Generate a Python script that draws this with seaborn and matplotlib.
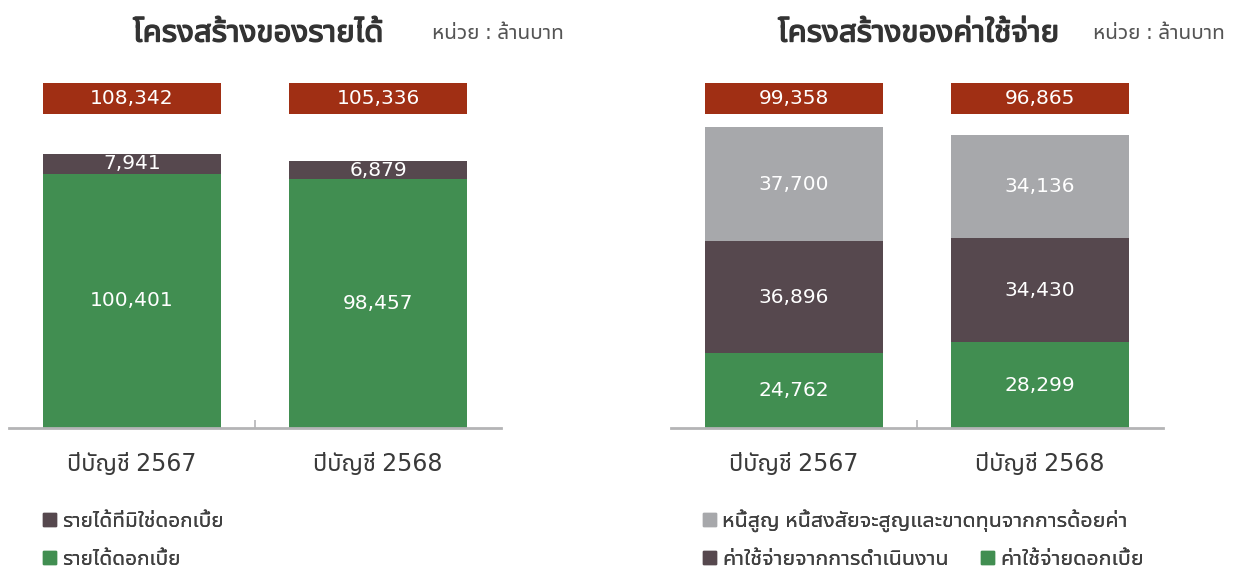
import matplotlib
matplotlib.use("Agg")
import matplotlib.pyplot as plt
import matplotlib.transforms as mtransforms
import matplotlib.patheffects as pe
from matplotlib.patches import Rectangle, Patch
from matplotlib import font_manager
import seaborn as sns
import pandas as pd

# ---------------- data ----------------
years = ["ปีบัญชี 2567", "ปีบัญชี 2568"]
income_interest = [100401, 98457]
income_non_interest = [7941, 6879]
income_total = [108342, 105336]

exp_interest = [24762, 28299]
exp_operating = [36896, 34430]
exp_badDebt = [37700, 34136]
exp_total = [99358, 96865]

lbl_income_interest = "รายได้ดอกเบี้ย"
lbl_income_non = "รายได้ที่มิใช่ดอกเบี้ย"
lbl_exp_bad = "หนี้สูญ หนี้สงสัยจะสูญและขาดทุนจากการด้อยค่า"
lbl_exp_op = "ค่าใช้จ่ายจากการดำเนินงาน"
lbl_exp_int = "ค่าใช้จ่ายดอกเบี้ย"
title_income = "โครงสร้างของรายได้"
title_exp = "โครงสร้างของค่าใช้จ่าย"
unit_text = "หน่วย : ล้านบาท"

# ---------------- colors ----------------
C_GREEN = "#418E51"
C_DARK = "#56484E"
C_GRAY = "#A7A8AB"
C_RED = "#A02F14"
C_AXIS = "#B4B4B6"
C_TEXT = "#3A3A3A"

# ---------------- font detection (Thai) ----------------
def find_thai_font():
    try:
        from fontTools.ttLib import TTFont
    except Exception:
        return None
    cands = []
    seen = set()
    for f in font_manager.fontManager.ttflist:
        if f.fname in seen:
            continue
        seen.add(f.fname)
        try:
            tt = TTFont(f.fname, fontNumber=0, lazy=True)
            cmap = tt.getBestCmap()
            if cmap and 0x0E01 in cmap and 0x0E49 in cmap:
                cands.append(f.name)
        except Exception:
            pass
    if not cands:
        return None
    def score(n):
        s = 0
        nl = n.lower()
        if "thai" in nl: s += 10
        if "sans" in nl: s += 5
        if "looped" in nl: s -= 3
        if "serif" in nl: s -= 4
        return -s
    cands = sorted(set(cands), key=score)
    return cands[0]

sns.set_theme(style="white")
thai = find_thai_font()
fams = ([thai] if thai else []) + ["DejaVu Sans"]
plt.rcParams["font.family"] = fams

fig = plt.figure(figsize=(12.38, 5.72), dpi=100)
fig.patch.set_facecolor("white")

W, H = 1238.0, 572.0
def ax_rect(x0, x1, ytop, ybot):
    return [x0 / W, 1 - ybot / H, (x1 - x0) / W, (ybot - ytop) / H]

axL = fig.add_axes(ax_rect(9, 501, 70, 428))
axR = fig.add_axes(ax_rect(671, 1163, 70, 428))

BW = 0.7236
VAL_FS = 14.5

def base_style(ax, ymax):
    ax.set_facecolor("none")
    ax.set_xlim(-0.5, 1.5)
    ax.set_ylim(0, ymax)
    for s in ["top", "left", "right"]:
        ax.spines[s].set_visible(False)
    ax.spines["bottom"].set_color(C_AXIS)
    ax.spines["bottom"].set_linewidth(2)
    ax.set_yticks([])
    ax.set_xticks([0, 1])
    ax.set_xticklabels(years, fontsize=17, color=C_TEXT)
    ax.tick_params(axis="x", which="major", length=0, pad=17)
    ax.set_xticks([0.5], minor=True)
    ax.tick_params(axis="x", which="minor", bottom=True, direction="in",
                   length=6, width=1.2, color=C_AXIS)
    ax.set_xlabel("")
    ax.set_ylabel("")

def stacked(ax, layers, colors):
    for vals, col in zip(layers, colors):
        df = pd.DataFrame({"year": years, "v": vals})
        sns.barplot(data=df, x="year", y="v", color=col, width=BW,
                    saturation=1, ax=ax, errorbar=None, linewidth=0,
                    edgecolor="none")

def val_text(ax, x, y, v):
    ax.text(x, y, f"{v:,}", ha="center", va="center", color="white",
            fontsize=VAL_FS)

def total_boxes(ax, totals):
    tr = mtransforms.blended_transform_factory(ax.transData, ax.transAxes)
    for i, t in enumerate(totals):
        ax.add_patch(Rectangle((i - BW / 2, 0.877), BW, 0.0866, transform=tr,
                               facecolor=C_RED, edgecolor="none", clip_on=False))
        ax.text(i, 0.877 + 0.0866 / 2, f"{t:,}", transform=tr, ha="center",
                va="center", color="white", fontsize=VAL_FS)

# ---- income panel ----
inc_tops = [a + b for a, b in zip(income_interest, income_non_interest)]
stacked(axL, [inc_tops, income_interest], [C_DARK, C_GREEN])
base_style(axL, 141500)
for i in range(2):
    val_text(axL, i, income_interest[i] / 2, income_interest[i])
    val_text(axL, i, income_interest[i] + income_non_interest[i] / 2,
             income_non_interest[i])
total_boxes(axL, income_total)

# ---- expense panel ----
e1 = exp_interest
e2 = [a + b for a, b in zip(exp_interest, exp_operating)]
e3 = [a + b for a, b in zip(e2, exp_badDebt)]
stacked(axR, [e3, e2, e1], [C_GRAY, C_DARK, C_GREEN])
base_style(axR, 118170)
for i in range(2):
    val_text(axR, i, exp_interest[i] / 2, exp_interest[i])
    val_text(axR, i, e1[i] + exp_operating[i] / 2, exp_operating[i])
    val_text(axR, i, e2[i] + exp_badDebt[i] / 2, exp_badDebt[i])
total_boxes(axR, exp_total)

# ---- titles ----
ty = 1 - 33 / H
bold_fx = [pe.withStroke(linewidth=1.0, foreground="#333333")]
fig.text(133 / W, ty, title_income, fontsize=22.5, fontweight="bold",
         color="#333333", ha="left", va="center", path_effects=bold_fx)
fig.text(432 / W, ty, unit_text, fontsize=15, color="#555555",
         ha="left", va="center")
fig.text(778 / W, ty, title_exp, fontsize=22.5, fontweight="bold",
         color="#333333", ha="left", va="center", path_effects=bold_fx)
fig.text(1093 / W, ty, unit_text, fontsize=15, color="#555555",
         ha="left", va="center")

# ---- legends ----
def leg(handles, x, y, fs, **kw):
    lg = fig.legend(handles=handles, loc="center left",
                    bbox_to_anchor=(x / W, 1 - y / H), frameon=False,
                    handlelength=0.6, handleheight=0.6, handletextpad=0.3,
                    fontsize=fs, labelcolor="#404040", borderaxespad=0,
                    borderpad=0, **kw)
    fig.add_artist(lg)
    return lg

leg([Patch(color=C_DARK, label=lbl_income_non)], 43, 521, 15)
leg([Patch(color=C_GREEN, label=lbl_income_interest)], 43, 559, 15)
leg([Patch(color=C_GRAY, label=lbl_exp_bad)], 703, 521, 15.5)
leg([Patch(color=C_DARK, label=lbl_exp_op),
     Patch(color=C_GREEN, label=lbl_exp_int)], 703, 559, 15.5,
    ncol=2, columnspacing=1.5)

fig.savefig("out.png", dpi=100, facecolor="white")
